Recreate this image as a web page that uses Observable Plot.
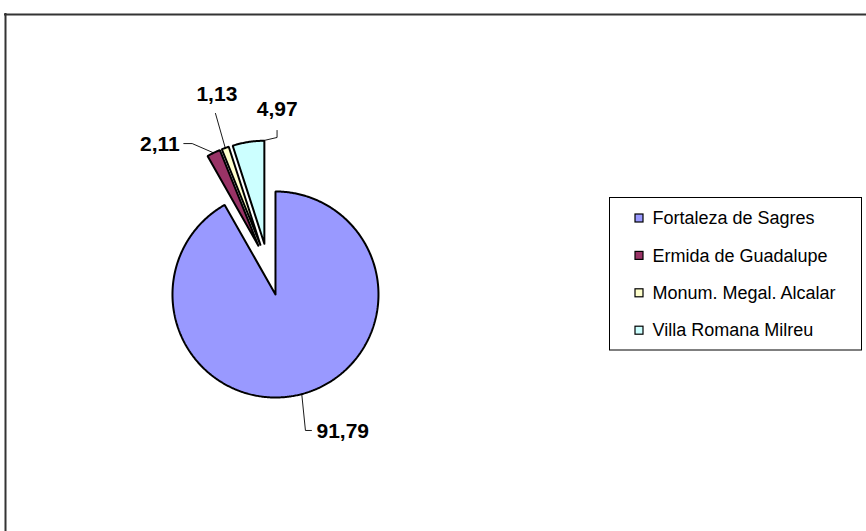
<!DOCTYPE html>
<html><head><meta charset="utf-8">
<script src="https://cdn.jsdelivr.net/npm/d3@7"></script>
<script src="https://cdn.jsdelivr.net/npm/@observablehq/plot@0.6"></script>
<style>
html,body{margin:0;padding:0;background:#fff;}
#chart svg{display:block;}
</style></head><body><div id="chart"></div>
<script>
// ---- data ----
const categories = ["Fortaleza de Sagres", "Ermida de Guadalupe", "Monum. Megal. Alcalar", "Villa Romana Milreu"];
const values = [91.79, 2.11, 1.13, 4.97];
const valueLabels = ["91,79", "2,11", "1,13", "4,97"];

// ---- style / layout ----
const colors = ["#9999FF", "#993366", "#FFFFCC", "#CCFFFF"];
const W = 866, H = 531;
const cx = 267.2, cy = 264.5, R = 103;
const explode = [30.5, 21.5, 21.5, 21.5];
const anchorT = [0.5, 0.5, 0.5, 0.95];
// leader polylines and label placement relative to the anchor on the arc
const leaderRel = [
  [[0, 0], [3.7, 36.4], [9.7, 36.4]],
  [[-29.8, -9.3], [-21.4, -9.3], [0, 0]],
  [[-9.8, -34.5], [0, 0]],
  [[0, 0], [14.3, -3.3], [14.3, -10.3]]
];
const labelRel = [[14.7, 37.2, "start"], [-33.8, -8.8, "end"], [-8.4, -54, "middle"], [14.5, -31.3, "middle"]];

const arcs = d3.pie().sort(null).value(d => d)(values);
const slices = arcs.map((a, i) => {
  const mid = (a.startAngle + a.endAngle) / 2;
  const ax = cx + explode[i] * Math.sin(mid), ay = cy - explode[i] * Math.cos(mid);
  const pts = [{x: ax, y: ay}];
  const n = Math.max(4, Math.ceil((a.endAngle - a.startAngle) / 0.01));
  for (let k = 0; k <= n; k++) {
    const t = a.startAngle + (a.endAngle - a.startAngle) * k / n;
    pts.push({x: ax + R * Math.sin(t), y: ay - R * Math.cos(t)});
  }
  pts.push({x: ax, y: ay});
  const ta = a.startAngle + (a.endAngle - a.startAngle) * anchorT[i];
  const anchor = {x: ax + R * Math.sin(ta), y: ay - R * Math.cos(ta)};
  return {i, pts, anchor};
});

const rowY = i => 218 + i * 37.4;

const marks = [];
// outer chart frame (clipped at right and bottom)
marks.push(Plot.ruleY([14], {x1: 4, x2: W, stroke: "#333", strokeWidth: 2}));
marks.push(Plot.ruleX([5], {y1: 13, y2: H, stroke: "#333", strokeWidth: 2}));
// pie slices
slices.forEach(s => {
  marks.push(Plot.line(s.pts, {x: "x", y: "y", fill: colors[s.i], stroke: "black", strokeWidth: 2, strokeLinejoin: "miter", curve: "linear"}));
});
// leader lines + value labels
slices.forEach(s => {
  const pts = leaderRel[s.i].map(([dx, dy]) => ({x: s.anchor.x + dx, y: s.anchor.y + dy}));
  marks.push(Plot.line(pts, {x: "x", y: "y", stroke: "black", strokeWidth: 0.9}));
});
["start", "middle", "end"].forEach(anchor => {
  marks.push(Plot.text(slices.filter(s => labelRel[s.i][2] === anchor), {
    x: s => s.anchor.x + labelRel[s.i][0],
    y: s => s.anchor.y + labelRel[s.i][1],
    text: s => valueLabels[s.i],
    textAnchor: anchor,
    fontSize: 21, fontWeight: "bold", fill: "black"
  }));
});
// legend
marks.push(Plot.rect([0], {x1: 609.5, x2: 861.5, y1: 197.5, y2: 350, fill: "white", stroke: "black", strokeWidth: 1}));
marks.push(Plot.rect(categories, {
  x1: 635, x2: 643,
  y1: (d, i) => rowY(i) - 4, y2: (d, i) => rowY(i) + 4,
  fill: (d, i) => colors[i], stroke: "black", strokeWidth: 1.2
}));
marks.push(Plot.text(categories, {
  x: 652, y: (d, i) => rowY(i), text: d => d, textAnchor: "start",
  fontSize: 18, fill: "black"
}));

const chart = Plot.plot({
  width: W, height: H,
  margin: 0,
  x: {domain: [0, W], range: [0, W], axis: null},
  y: {domain: [0, H], range: [0, H], axis: null},
  color: {type: "identity"},
  style: {fontFamily: "'Liberation Sans', Arial, sans-serif", background: "white", overflow: "hidden"},
  marks
});
document.getElementById("chart").appendChild(chart);
</script>
</body></html>
